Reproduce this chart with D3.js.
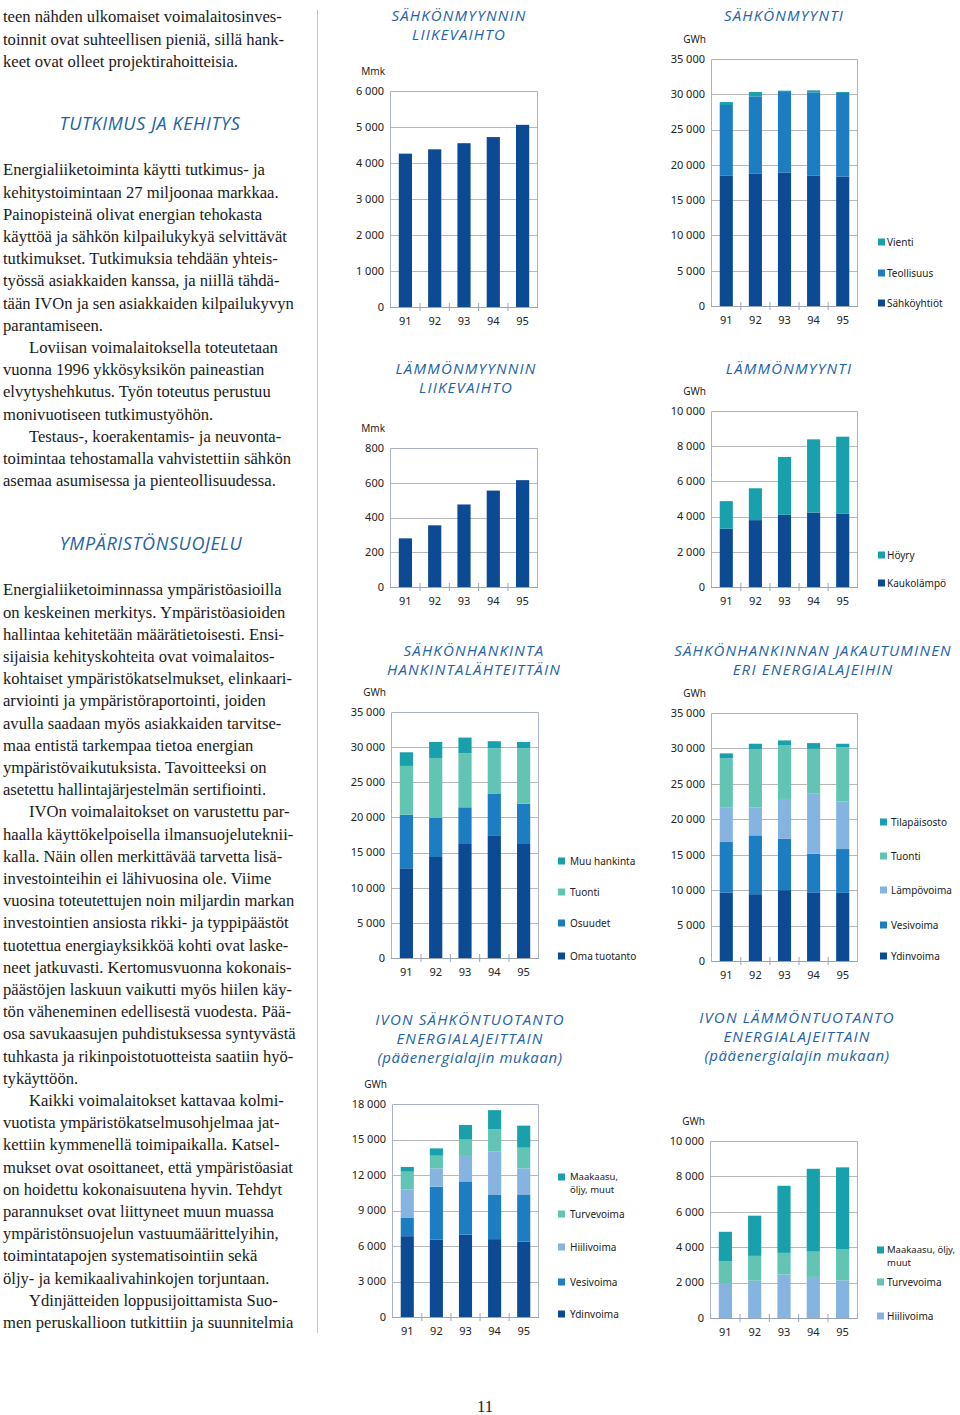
<!DOCTYPE html>
<html>
<head>
<meta charset="utf-8">
<script src="https://cdn.jsdelivr.net/npm/d3@7"></script>
<style>
  body { margin: 0; background: #fff; }
  .body-text { font-family: "Liberation Serif", "Times New Roman", serif; font-size: 16.6px; fill: #1a1a1a; }
  .heading { font-family: "Open Sans", "DejaVu Sans", sans-serif; font-style: italic; font-size: 18px; letter-spacing: 0.6px; fill: #2262a6; }
  .chart-title { font-family: "Open Sans", "DejaVu Sans", sans-serif; font-style: italic; font-size: 15px; fill: #2262a6; }
  .tick-label { font-family: "Noto Sans", "DejaVu Sans", sans-serif; font-size: 11px; fill: #222; }
  .legend-label { font-family: "Noto Sans", "DejaVu Sans", sans-serif; font-size: 10px; fill: #222; }
  .legend-label.two-line { font-size: 9.5px; }
</style>
</head>
<body>
<svg id="page" width="960" height="1415"></svg>
<script>
const years = ["91", "92", "93", "94", "95"];

// Mmk
const elecRevenue = [4260, 4380, 4550, 4720, 5060];
const heatRevenue = [280, 355, 475, 555, 615];

// GWh, sähkönmyynti
const salesUtilities = [18450, 18730, 18920, 18450, 18350];
const salesIndustry = [10030, 10970, 11400, 11820, 11830];
const salesExport = [420, 620, 190, 290, 140];

// GWh, lämmönmyynti
const heatDistrict = [3310, 3800, 4100, 4230, 4160];
const heatSteam = [1570, 1810, 3290, 4160, 4380];

// GWh, sähkönhankinta hankintalähteittäin
const procOwn = [12760, 14370, 16220, 17460, 16220];
const procShares = [7640, 5550, 5220, 5880, 5740];
const procImport = [6930, 8540, 7690, 6500, 7870];
const procOther = [1940, 2280, 2230, 1000, 900];

// GWh, jakautuminen energialajeihin
const mixNuclear = [9670, 9430, 10000, 9620, 9620];
const mixHydro = [7120, 8300, 7260, 5520, 6180];
const mixThermal = [4910, 3920, 5610, 8540, 6700];
const mixImport = [6890, 8260, 7550, 6270, 7690];
const mixTemporary = [710, 750, 710, 800, 470];

// GWh, IVOn sähköntuotanto
const ivoNuclear = [6830, 6550, 6970, 6580, 6380];
const ivoHydro = [1580, 4460, 4490, 3730, 3980];
const ivoCoal = [2370, 1550, 2150, 3670, 2200];
const ivoPeat = [1500, 1070, 1380, 1890, 1750];
const ivoGas = [400, 620, 1240, 1610, 1860];

// GWh, IVOn lämmöntuotanto
const ivoHeatCoal = [1940, 2110, 2450, 2320, 2130];
const ivoHeatPeat = [1270, 1400, 1230, 1430, 1740];
const ivoHeatGas = [1660, 2270, 3790, 4680, 4640];

const navy = "#0d4a94";
const blue = "#1c7dc3";
const lightBlue = "#86b4e0";
const lightTeal = "#62c5b4";
const teal = "#19a0ad";

const textBlocks = [
  { y: 17, lines: [
    "teen nähden ulkomaiset voimalaitosinves-",
    "toinnit ovat suhteellisen pieniä, sillä hank-",
    "keet ovat olleet projektirahoitteisia."
  ]},
  { y: 170, lines: [
    "Energialiiketoiminta käytti tutkimus- ja",
    "kehitystoimintaan 27 miljoonaa markkaa.",
    "Painopisteinä olivat energian tehokasta",
    "käyttöä ja sähkön kilpailukykyä selvittävät",
    "tutkimukset. Tutkimuksia tehdään yhteis-",
    "työssä asiakkaiden kanssa, ja niillä tähdä-",
    "tään IVOn ja sen asiakkaiden kilpailukyvyn",
    "parantamiseen.",
    "\tLoviisan voimalaitoksella toteutetaan",
    "vuonna 1996 ykkösyksikön paineastian",
    "elvytyshehkutus. Työn toteutus perustuu",
    "monivuotiseen tutkimustyöhön.",
    "\tTestaus-, koerakentamis- ja neuvonta-",
    "toimintaa tehostamalla vahvistettiin sähkön",
    "asemaa asumisessa ja pienteollisuudessa."
  ]},
  { y: 590, lines: [
    "Energialiiketoiminnassa ympäristöasioilla",
    "on keskeinen merkitys. Ympäristöasioiden",
    "hallintaa kehitetään määrätietoisesti. Ensi-",
    "sijaisia kehityskohteita ovat voimalaitos-",
    "kohtaiset ympäristökatselmukset, elinkaari-",
    "arviointi ja ympäristöraportointi, joiden",
    "avulla saadaan myös asiakkaiden tarvitse-",
    "maa entistä tarkempaa tietoa energian",
    "ympäristövaikutuksista. Tavoitteeksi on",
    "asetettu hallintajärjestelmän sertifiointi.",
    "\tIVOn voimalaitokset on varustettu par-",
    "haalla käyttökelpoisella ilmansuojeluteknii-",
    "kalla. Näin ollen merkittävää tarvetta lisä-",
    "investointeihin ei lähivuosina ole. Viime",
    "vuosina toteutettujen noin miljardin markan",
    "investointien ansiosta rikki- ja typpipäästöt",
    "tuotettua energiayksikköä kohti ovat laske-",
    "neet jatkuvasti. Kertomusvuonna kokonais-",
    "päästöjen laskuun vaikutti myös hiilen käy-",
    "tön väheneminen edellisestä vuodesta. Pää-",
    "osa savukaasujen puhdistuksessa syntyvästä",
    "tuhkasta ja rikinpoistotuotteista saatiin hyö-",
    "tykäyttöön.",
    "\tKaikki voimalaitokset kattavaa kolmi-",
    "vuotista ympäristökatselmusohjelmaa jat-",
    "kettiin kymmenellä toimipaikalla. Katsel-",
    "mukset ovat osoittaneet, että ympäristöasiat",
    "on hoidettu kokonaisuutena hyvin. Tehdyt",
    "parannukset ovat liittyneet muun muassa",
    "ympäristönsuojelun vastuumäärittelyihin,",
    "toimintatapojen systematisointiin sekä",
    "öljy- ja kemikaalivahinkojen torjuntaan.",
    "\tYdinjätteiden loppusijoittamista Suo-",
    "men peruskallioon tutkittiin ja suunnitelmia"
  ]}
];

const svg = d3.select("#page");
const fmt = d3.formatLocale({ decimal: ",", thousands: " ", grouping: [3], currency: ["", ""] }).format(",d");

// text column
const lineHeight = 22.2;
textBlocks.forEach((block) => {
  svg.append("g")
    .selectAll("text")
    .data(block.lines)
    .join("text")
    .attr("class", "body-text")
    .attr("x", (d) => (d.startsWith("\t") ? 29 : 3))
    .attr("y", (d, i) => block.y + i * lineHeight)
    .attr("dy", "0.32em")
    .text((d) => d.replace("\t", ""));
});

svg.append("text").attr("class", "heading").attr("x", 150).attr("y", 124)
  .attr("dy", "0.35em").attr("text-anchor", "middle").text("TUTKIMUS JA KEHITYS");
svg.append("text").attr("class", "heading").attr("x", 151).attr("y", 544)
  .attr("dy", "0.35em").attr("text-anchor", "middle").text("YMPÄRISTÖNSUOJELU");

// column divider
svg.append("line")
  .attr("x1", 317.5).attr("x2", 317.5).attr("y1", 10).attr("y2", 1333)
  .attr("stroke", "#c4c4c4").attr("stroke-width", 1);

// page number
svg.append("text").attr("class", "body-text").attr("x", 485).attr("y", 1407)
  .attr("dy", "0.32em").attr("text-anchor", "middle").text("11");

function drawChart(cfg) {
  const g = svg.append("g");

  const x = d3.scaleBand()
    .domain(years)
    .range([cfg.x0, cfg.x1])
    .paddingInner(0.55)
    .paddingOuter(0.3);

  const y = d3.scaleLinear()
    .domain([0, cfg.max])
    .range([cfg.bottom, cfg.top]);

  const ticks = d3.range(0, cfg.max + 1, cfg.step);

  // gridlines
  g.append("g")
    .selectAll("line")
    .data(ticks.filter((t) => t > 0 && t < cfg.max))
    .join("line")
    .attr("x1", cfg.x0).attr("x2", cfg.x1)
    .attr("y1", (d) => Math.round(y(d)) + 0.5)
    .attr("y2", (d) => Math.round(y(d)) + 0.5)
    .attr("stroke", "#b8b8b8");

  // stacked bars
  const table = years.map((yr, i) => {
    const row = { year: yr };
    cfg.series.forEach((s) => (row[s.name] = s.values[i]));
    return row;
  });
  const stack = d3.stack().keys(cfg.series.map((s) => s.name))(table);

  g.append("g")
    .selectAll("g")
    .data(stack)
    .join("g")
    .attr("fill", (d, i) => cfg.series[i].color)
    .selectAll("rect")
    .data((d) => d)
    .join("rect")
    .attr("x", (d) => x(d.data.year))
    .attr("width", x.bandwidth())
    .attr("y", (d) => y(d[1]))
    .attr("height", (d) => y(d[0]) - y(d[1]));

  // frame
  g.append("path")
    .attr("d", `M${cfg.x0 + 0.5},${cfg.bottom}V${cfg.top + 0.5}H${cfg.x1 - 0.5}V${cfg.bottom}`)
    .attr("fill", "none")
    .attr("stroke", "#aab3c3");
  g.append("line")
    .attr("x1", cfg.x0).attr("x2", cfg.x1)
    .attr("y1", cfg.bottom + 0.5).attr("y2", cfg.bottom + 0.5)
    .attr("stroke", "#9aa4b6");

  // small ticks between bars
  const gap = x.step() * x.paddingInner();
  g.append("g")
    .selectAll("line")
    .data(years.slice(1))
    .join("line")
    .attr("x1", (d) => x(d) - gap / 2)
    .attr("x2", (d) => x(d) - gap / 2)
    .attr("y1", cfg.bottom - 4)
    .attr("y2", cfg.bottom + 4)
    .attr("stroke", "#9aa4b6");

  // y labels
  g.append("g")
    .selectAll("text")
    .data(ticks)
    .join("text")
    .attr("class", "tick-label")
    .attr("x", cfg.x0 - 6)
    .attr("y", (d) => y(d))
    .attr("dy", "0.35em")
    .attr("text-anchor", "end")
    .text((d) => fmt(d));

  g.append("text")
    .attr("class", "legend-label")
    .attr("x", cfg.x0 - 5)
    .attr("y", cfg.top - 20)
    .attr("dy", "0.35em")
    .attr("text-anchor", "end")
    .text(cfg.unit);

  // x labels
  g.append("g")
    .selectAll("text")
    .data(years)
    .join("text")
    .attr("class", "tick-label")
    .attr("x", (d) => x(d) + x.bandwidth() / 2)
    .attr("y", cfg.bottom + 14)
    .attr("dy", "0.35em")
    .attr("text-anchor", "middle")
    .text((d) => d);

  // title
  g.append("g")
    .selectAll("text")
    .data(cfg.title)
    .join("text")
    .attr("class", "chart-title")
    .attr("x", cfg.titleX)
    .attr("y", (d, i) => cfg.titleY + i * 19)
    .attr("dy", "0.35em")
    .attr("text-anchor", "middle")
    .attr("letter-spacing", (d) => (d.startsWith("(") ? 0.6 : 1.2))
    .text((d) => d);

  // legend
  if (cfg.legendY) {
    const items = g.append("g")
      .selectAll("g")
      .data(cfg.series)
      .join("g")
      .attr("transform", (d, i) => `translate(${cfg.legendX},${cfg.legendY[i]})`);
    items.append("rect")
      .attr("x", 0).attr("y", -3.5)
      .attr("width", 7).attr("height", 7)
      .attr("fill", (d) => d.color);
    items.append("text")
      .attr("class", (d) => (d.name.includes("\n") ? "legend-label two-line" : "legend-label"))
      .selectAll("tspan")
      .data((d) => d.name.split("\n"))
      .join("tspan")
      .attr("x", cfg.legendText)
      .attr("y", (d, i) => i * 13)
      .attr("dy", "0.35em")
      .text((d) => d);
  }
}

drawChart({
  x0: 390, x1: 538, top: 91, bottom: 307, max: 6000, step: 1000, unit: "Mmk",
  title: ["SÄHKÖNMYYNNIN", "LIIKEVAIHTO"], titleX: 459, titleY: 16,
  series: [{ name: "Liikevaihto", values: elecRevenue, color: navy }]
});

drawChart({
  x0: 711, x1: 858, top: 59, bottom: 306, max: 35000, step: 5000, unit: "GWh",
  title: ["SÄHKÖNMYYNTI"], titleX: 784, titleY: 16,
  series: [
    { name: "Sähköyhtiöt", values: salesUtilities, color: navy },
    { name: "Teollisuus", values: salesIndustry, color: blue },
    { name: "Vienti", values: salesExport, color: teal }
  ],
  legendX: 878, legendText: 9, legendY: [303, 273, 242]
});

drawChart({
  x0: 390, x1: 538, top: 448, bottom: 587, max: 800, step: 200, unit: "Mmk",
  title: ["LÄMMÖNMYYNNIN", "LIIKEVAIHTO"], titleX: 466, titleY: 369,
  series: [{ name: "Liikevaihto", values: heatRevenue, color: navy }]
});

drawChart({
  x0: 711, x1: 858, top: 411, bottom: 587, max: 10000, step: 2000, unit: "GWh",
  title: ["LÄMMÖNMYYNTI"], titleX: 789, titleY: 369,
  series: [
    { name: "Kaukolämpö", values: heatDistrict, color: navy },
    { name: "Höyry", values: heatSteam, color: teal }
  ],
  legendX: 878, legendText: 9, legendY: [583, 555]
});

drawChart({
  x0: 391, x1: 539, top: 712, bottom: 958, max: 35000, step: 5000, unit: "GWh",
  title: ["SÄHKÖNHANKINTA", "HANKINTALÄHTEITTÄIN"], titleX: 474, titleY: 651,
  series: [
    { name: "Oma tuotanto", values: procOwn, color: navy },
    { name: "Osuudet", values: procShares, color: blue },
    { name: "Tuonti", values: procImport, color: lightTeal },
    { name: "Muu hankinta", values: procOther, color: teal }
  ],
  legendX: 558, legendText: 12, legendY: [956, 923, 892, 861]
});

drawChart({
  x0: 711, x1: 858, top: 713, bottom: 961, max: 35000, step: 5000, unit: "GWh",
  title: ["SÄHKÖNHANKINNAN JAKAUTUMINEN", "ERI ENERGIALAJEIHIN"], titleX: 813, titleY: 651,
  series: [
    { name: "Ydinvoima", values: mixNuclear, color: navy },
    { name: "Vesivoima", values: mixHydro, color: blue },
    { name: "Lämpövoima", values: mixThermal, color: lightBlue },
    { name: "Tuonti", values: mixImport, color: lightTeal },
    { name: "Tilapäisosto", values: mixTemporary, color: teal }
  ],
  legendX: 880, legendText: 11, legendY: [956, 925, 890, 856, 822]
});

drawChart({
  x0: 392, x1: 539, top: 1104, bottom: 1317, max: 18000, step: 3000, unit: "GWh",
  title: ["IVON SÄHKÖNTUOTANTO", "ENERGIALAJEITTAIN", "(pääenergialajin mukaan)"], titleX: 470, titleY: 1020,
  series: [
    { name: "Ydinvoima", values: ivoNuclear, color: navy },
    { name: "Vesivoima", values: ivoHydro, color: blue },
    { name: "Hiilivoima", values: ivoCoal, color: lightBlue },
    { name: "Turvevoima", values: ivoPeat, color: lightTeal },
    { name: "Maakaasu,\nöljy, muut", values: ivoGas, color: teal }
  ],
  legendX: 558, legendText: 12, legendY: [1314, 1282, 1247, 1214, 1177]
});

drawChart({
  x0: 710, x1: 858, top: 1141, bottom: 1318, max: 10000, step: 2000, unit: "GWh",
  title: ["IVON LÄMMÖNTUOTANTO", "ENERGIALAJEITTAIN", "(pääenergialajin mukaan)"], titleX: 797, titleY: 1018,
  series: [
    { name: "Hiilivoima", values: ivoHeatCoal, color: lightBlue },
    { name: "Turvevoima", values: ivoHeatPeat, color: lightTeal },
    { name: "Maakaasu, öljy,\nmuut", values: ivoHeatGas, color: teal }
  ],
  legendX: 877, legendText: 10, legendY: [1316, 1282, 1250]
});
</script>
</body>
</html>
